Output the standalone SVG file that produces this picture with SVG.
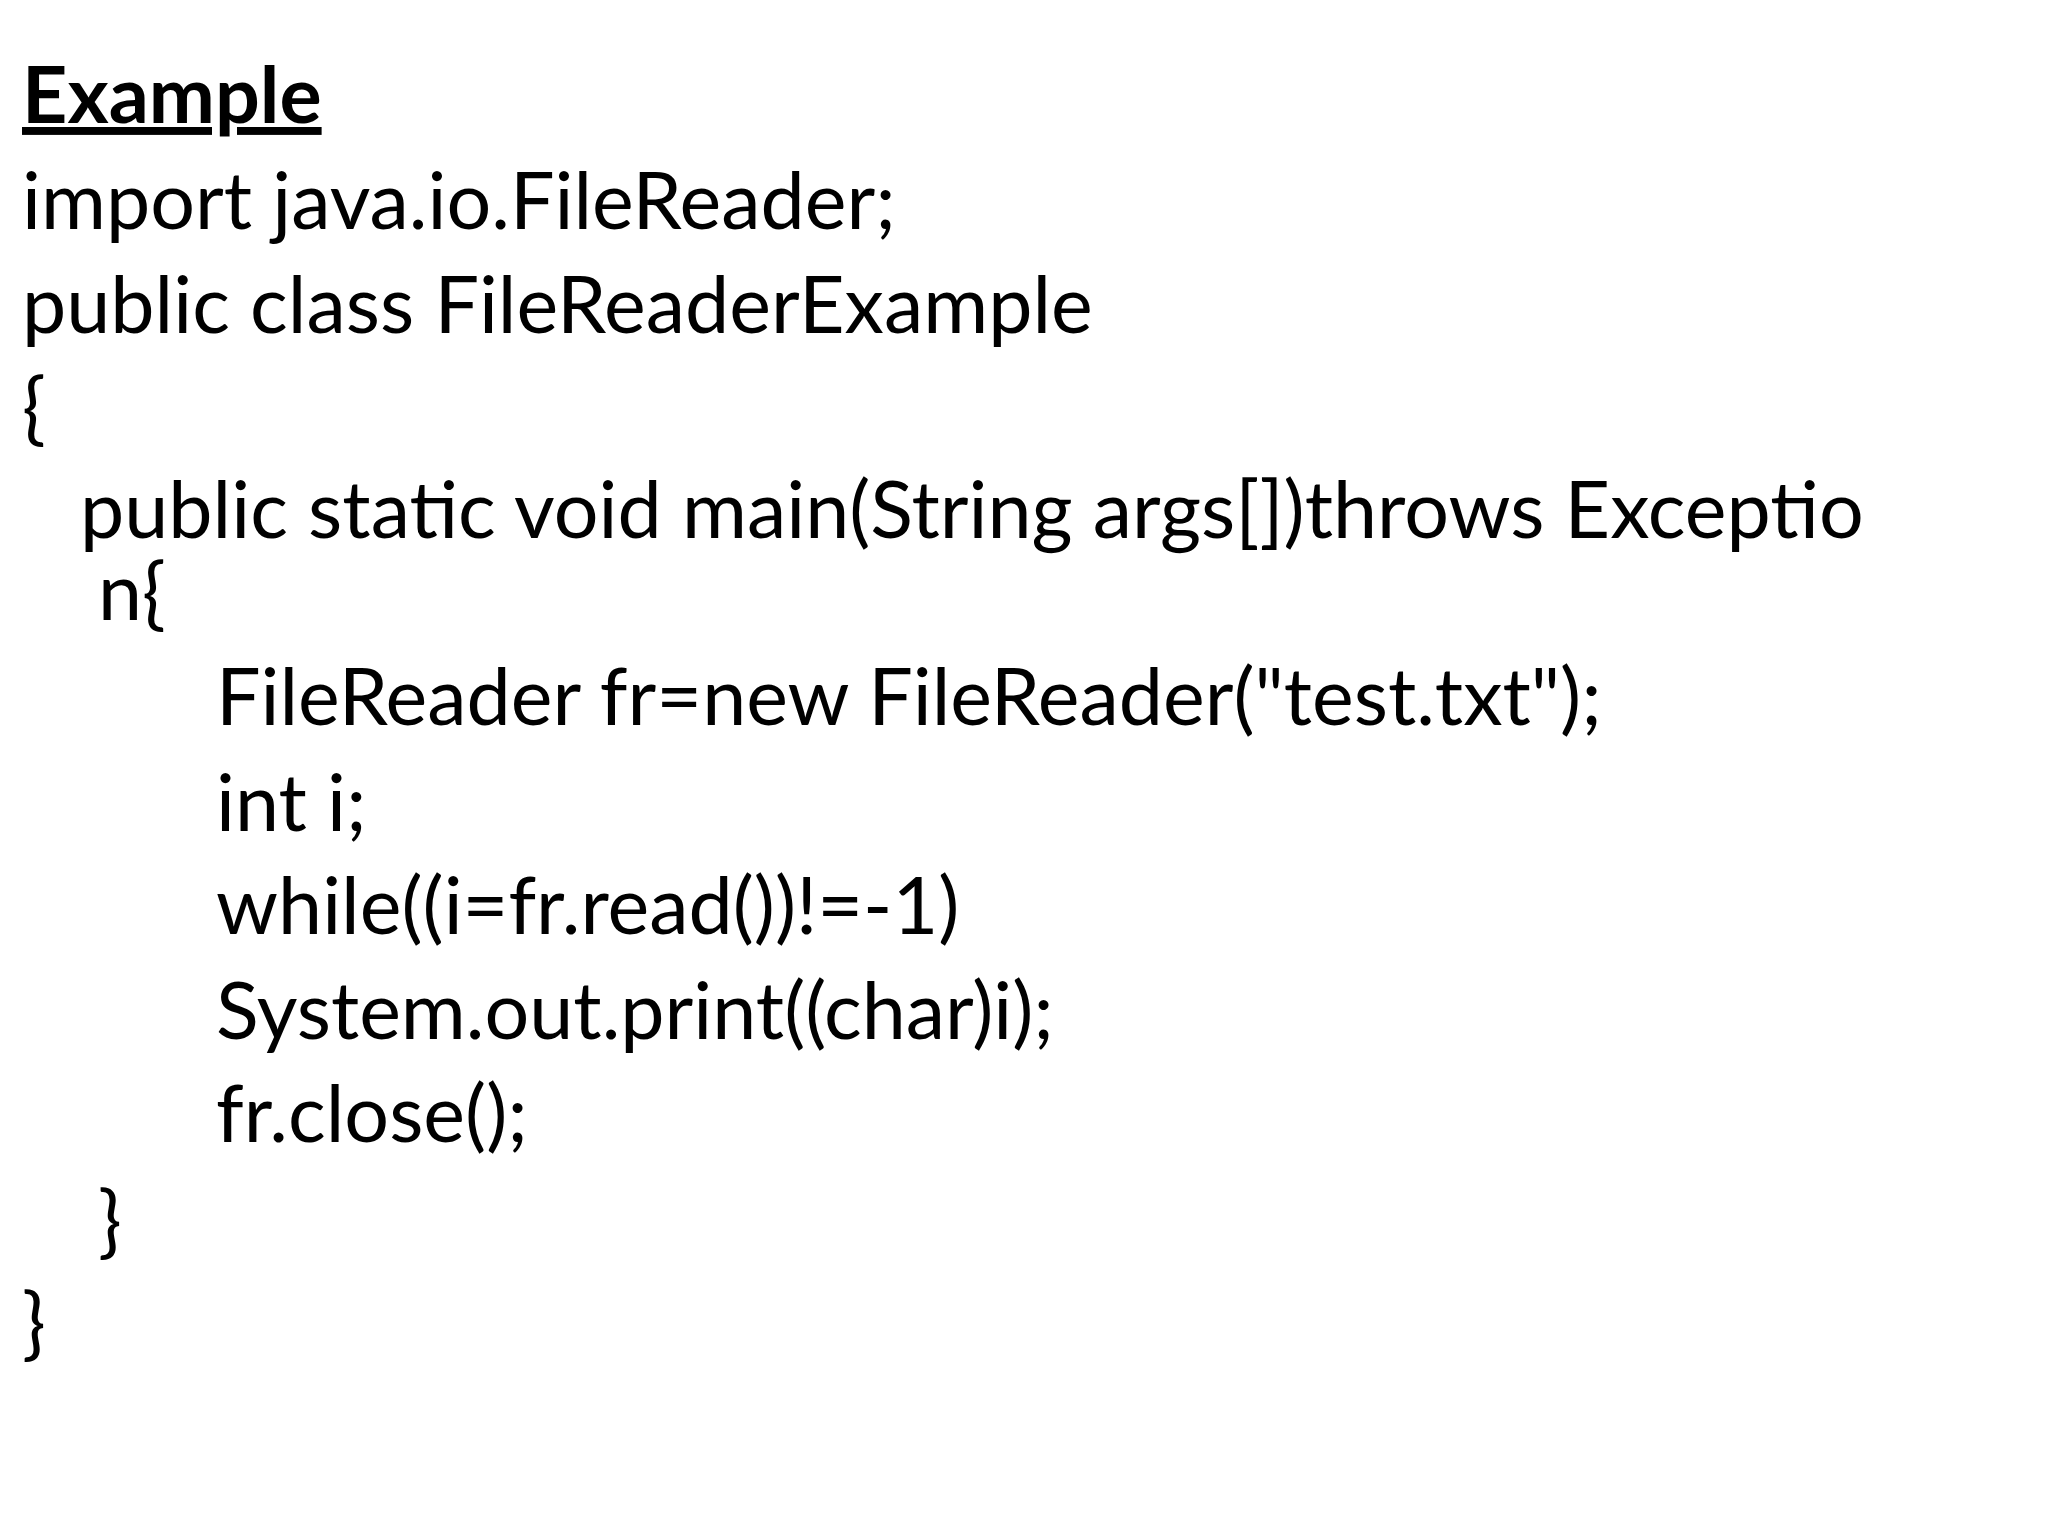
<svg xmlns="http://www.w3.org/2000/svg" width="2048" height="1536" viewBox="0 0 2048 1536">
<style>
text{font-family:Lato,"Liberation Sans",sans-serif;font-size:79px;fill:#000}
.b{font-weight:bold;text-decoration:underline}
</style>
<rect width="2048" height="1536" fill="#fff"/>
<text class="b" x="22" y="123">Example</text>
<text x="22" y="229">import java.io.FileReader;</text>
<text x="22" y="333">public class FileReaderExample</text>
<text x="22" y="435">{</text>
<text x="80" y="538">public static void main(String args[])throws Exceptio</text>
<text x="98" y="620">n{</text>
<text x="216" y="725">FileReader fr=new FileReader("test.txt");</text>
<text x="216" y="831">int i;</text>
<text x="216" y="934">while((i=fr.read())!=-1)</text>
<text x="216" y="1039">System.out.print((char)i);</text>
<text x="216" y="1142">fr.close();</text>
<text x="98" y="1248">}</text>
<text x="22" y="1350">}</text>
</svg>
